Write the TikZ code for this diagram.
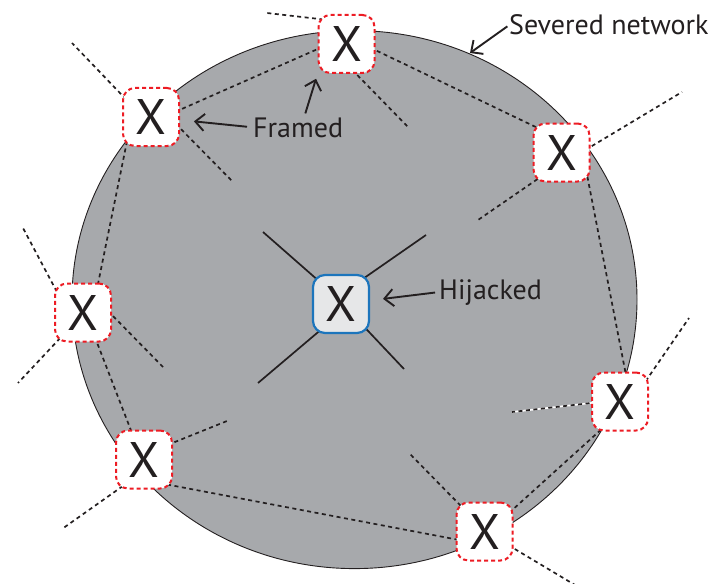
\documentclass[tikz,border=0pt]{standalone}
\usepackage{fontspec}
\setmainfont{PT Sans}
\usetikzlibrary{arrows.meta,backgrounds}
\definecolor{netgray}{HTML}{A7A9AC}
\definecolor{xred}{HTML}{ED1C24}
\definecolor{xblue}{HTML}{1C75BC}
\definecolor{xfill}{HTML}{E6E7E8}
\definecolor{ink}{HTML}{231F20}
\begin{document}
\begin{tikzpicture}[x=1pt,y=-1pt,
  framedbox/.style={draw=xred, line width=2pt, dash pattern=on 4pt off 3pt, fill=white,
    rounded corners=12pt, minimum width=56pt, minimum height=58pt, inner sep=0pt,
    font=\fontsize{50}{50}\selectfont, text=ink},
  hijackbox/.style={framedbox, draw=xblue, solid, line width=2.2pt, fill=xfill},
  link/.style={draw=ink, line width=1.7pt, dash pattern=on 4pt off 3.5pt, shorten <=-6pt, shorten >=-6pt},
  stray/.style={draw=ink, line width=1.7pt, dash pattern=on 4pt off 3.5pt, shorten <=-6pt},
  spoke/.style={draw=ink, line width=1.7pt, shorten <=-6pt},
  lbl/.style={anchor=base west, inner sep=0pt, text=ink, font=\fontsize{28}{28}\selectfont},
  arr/.style={draw=ink, line width=1.9pt, -{Straight Barb[length=9pt,width=17pt]}}
]
\useasboundingbox (0,0) rectangle (714,583);

% nodes
\node[framedbox] (n1) at (346.5,44) {X};
\node[framedbox] (n2) at (151,117) {X};
\node[framedbox] (n3) at (561.5,152.5) {X};
\node[framedbox] (n4) at (83,312.5) {X};
\node[framedbox] (n5) at (144,459.5) {X};
\node[framedbox] (n6) at (484.5,531.5) {X};
\node[framedbox] (n7) at (620,401.5) {X};
\node[hijackbox] (h) at (341,304) {X};

% free ends
\coordinate (n1o) at (267,13);
\coordinate (n1i) at (408,127);
\coordinate (n2o) at (72,43);
\coordinate (n2i) at (233,182);
\coordinate (n3o) at (682,92);
\coordinate (n3i) at (478,220);
\coordinate (n4a) at (23,228);
\coordinate (n4b) at (18,383);
\coordinate (n4i) at (163,367);
\coordinate (n5i) at (227,421);
\coordinate (n5o) at (62,529);
\coordinate (n6i) at (410,454);
\coordinate (n6o) at (575,585);
\coordinate (n7o) at (689,318);
\coordinate (n7i) at (512,412);
\coordinate (ha) at (263,232);
\coordinate (hb) at (426,235);
\coordinate (hc) at (258,383);
\coordinate (hd) at (404,369);
\coordinate (sevtip) at (470,53);

\begin{scope}[on background layer]
  \fill[netgray, draw=ink, line width=0.9pt] (354.5,299.6) ellipse [x radius=282.5pt, y radius=269pt];
  % links between framed nodes
  \draw[link] (n1.190) -- (n2.14);
  \draw[link] (n1.-12) -- (n3.137);
  \draw[link] (n2.230) -- (n4.63);
  \draw[link] (n3.-48) -- (n7.80);
  \draw[link] (n4.-65) -- (n5.114);
  \draw[link] (n5.-42) -- (n6.195);
  \draw[link] (n6.38) -- (n7.235);
  % stray links
  \draw[stray] (n1.139) -- (n1o);
  \draw[stray] (n1.-72) -- (n1i);
  \draw[stray] (n2.143) -- (n2o);
  \draw[stray] (n2.-21) -- (n2i);
  \draw[stray] (n3.11) -- (n3o);
  \draw[stray] (n3.226) -- (n3i);
  \draw[stray] (n4.138) -- (n4a);
  \draw[stray] (n4.228) -- (n4b);
  \draw[stray] (n4.-5) -- (n4i);
  \draw[stray] (n5.30) -- (n5i);
  \draw[stray] (n5.229) -- (n5o);
  \draw[stray] (n6.133) -- (n6i);
  \draw[stray] (n6.-30) -- (n6o);
  \draw[stray] (n7.41) -- (n7o);
  \draw[white, line width=1.7pt, shorten <=-6pt] (n7.183) -- (n7i);
  \draw[stray] (n7.183) -- (n7i);
  % hijacked spokes
  \draw[spoke] (h.135) -- (ha);
  \draw[spoke] (h.46) -- (hb);
  \draw[spoke] (h.230) -- (hc);
  \draw[spoke] (h.-45) -- (hd);
\end{scope}

% labels
\node[lbl] (sev) at (509,35) {Severed network};
\node[lbl] (fr) at (253,137) {Framed};
\node[lbl] (hj) at (439,299) {Hijacked};

\draw[arr, shorten <=2pt] (sev.west) -- (sevtip);
\draw[arr, shorten <=6pt, shorten >=14pt] (fr.west) -- (n2);
\draw[arr, shorten <=4pt, shorten >=5pt] ([xshift=6pt]fr.north) -- (n1.south west);
\draw[arr, shorten <=4pt, shorten >=13pt] (hj.west) -- (h);
\end{tikzpicture}
\end{document}
